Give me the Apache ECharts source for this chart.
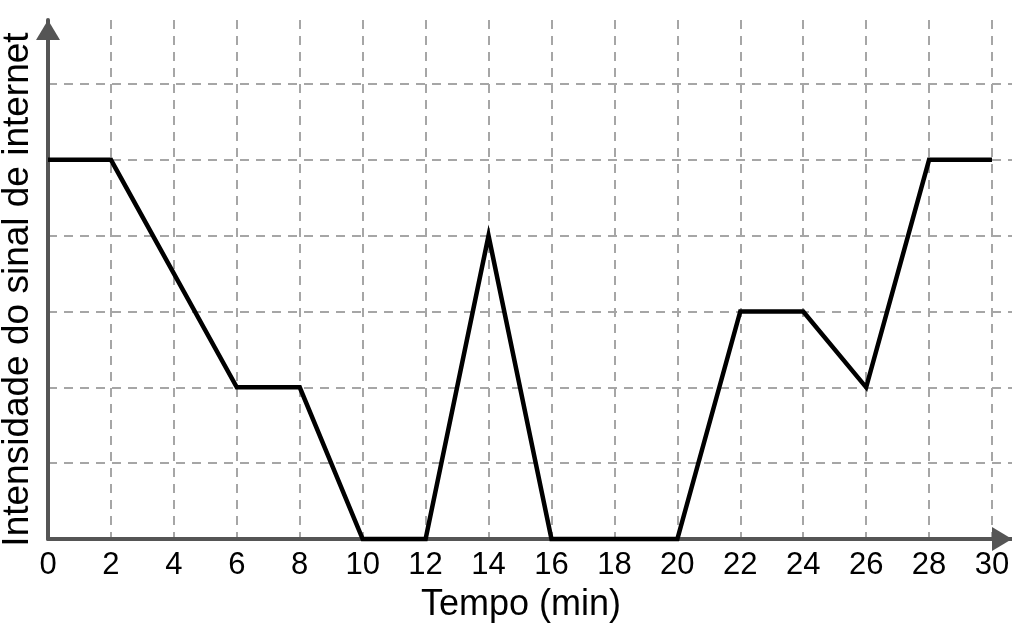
<!DOCTYPE html>
<html>
<head>
<meta charset="utf-8">
<title>Intensidade do sinal de internet</title>
<script src="https://cdn.jsdelivr.net/npm/echarts@6/dist/echarts.min.js"></script>
<style>
    html, body { margin: 0; padding: 0; background: #fff; }
    #chart { width: 1012px; height: 634px; }
</style>
</head>
<body>
<div id="chart"></div>
<script>
// dados
var tempo = [0, 2, 6, 8, 10, 12, 14, 16, 20, 22, 24, 26, 28, 30];
var intensidade = [5, 5, 2, 2, 0, 0, 4, 0, 0, 3, 3, 2, 5, 5];
var xStep = 2;
var xLast = 30;
var yLevels = 6;

var axisColor = '#555555';
var gridColor = '#a6a6a6';
var font = '"Liberation Sans", Arial, sans-serif';

// cores das linhas de grade: a primeira e a ultima (borda) ficam invisiveis
function splitColors(count) {
    var list = [];
    for (var i = 0; i <= count; i++) {
        list.push(i === 0 ? 'rgba(0,0,0,0)' : gridColor);
    }
    list.push('rgba(0,0,0,0)');
    return list;
}

var chart = echarts.init(document.getElementById('chart'));

var option = {
    animation: false,
    backgroundColor: '#fff',
    grid: { left: 48, right: 0, top: 20, bottom: 95, containLabel: false, outerBoundsMode: 'none' },
    xAxis: {
        type: 'value',
        min: 0,
        max: 30.635,
        interval: xStep,
        name: 'Tempo (min)',
        nameLocation: 'middle',
        nameGap: 48,
        nameTextStyle: { fontFamily: font, fontSize: 36, color: '#000', padding: [0, 18, 0, 0] },
        axisLine: {
            lineStyle: { color: axisColor, width: 4 },
            symbol: ['none', 'triangle'],
            symbolSize: [24, 20],
            symbolOffset: [0, -10]
        },
        axisTick: { show: false },
        axisLabel: {
            margin: 11,
            fontFamily: font,
            fontSize: 31,
            color: '#000',
            formatter: function (v) {
                return (v % xStep === 0 && v <= xLast) ? String(v) : '';
            }
        },
        splitLine: {
            show: true,
            lineStyle: { color: splitColors(xLast / xStep), width: 2, type: [9, 7] }
        }
    },
    yAxis: {
        type: 'value',
        min: 0,
        max: 6.844,
        interval: 1,
        name: 'Intensidade do sinal de internet',
        nameLocation: 'middle',
        nameRotate: 90,
        nameGap: 12,
        nameTextStyle: { fontFamily: font, fontSize: 37, color: '#000', padding: [0, 20, 0, 0] },
        axisLine: {
            show: true,
            lineStyle: { color: axisColor, width: 4 },
            symbol: ['none', 'triangle'],
            symbolSize: [24, 20],
            symbolOffset: [0, -10]
        },
        axisTick: { show: false },
        axisLabel: { show: false },
        splitLine: {
            show: true,
            lineStyle: { color: splitColors(yLevels), width: 2, type: [9, 7] }
        }
    },
    series: [{
        type: 'line',
        data: tempo.map(function (t, i) { return [t, intensidade[i]]; }),
        showSymbol: false,
        clip: false,
        z: 5,
        lineStyle: { color: '#000', width: 4.5, join: 'miter' }
    }]
};

chart.setOption(option);
</script>
</body>
</html>
